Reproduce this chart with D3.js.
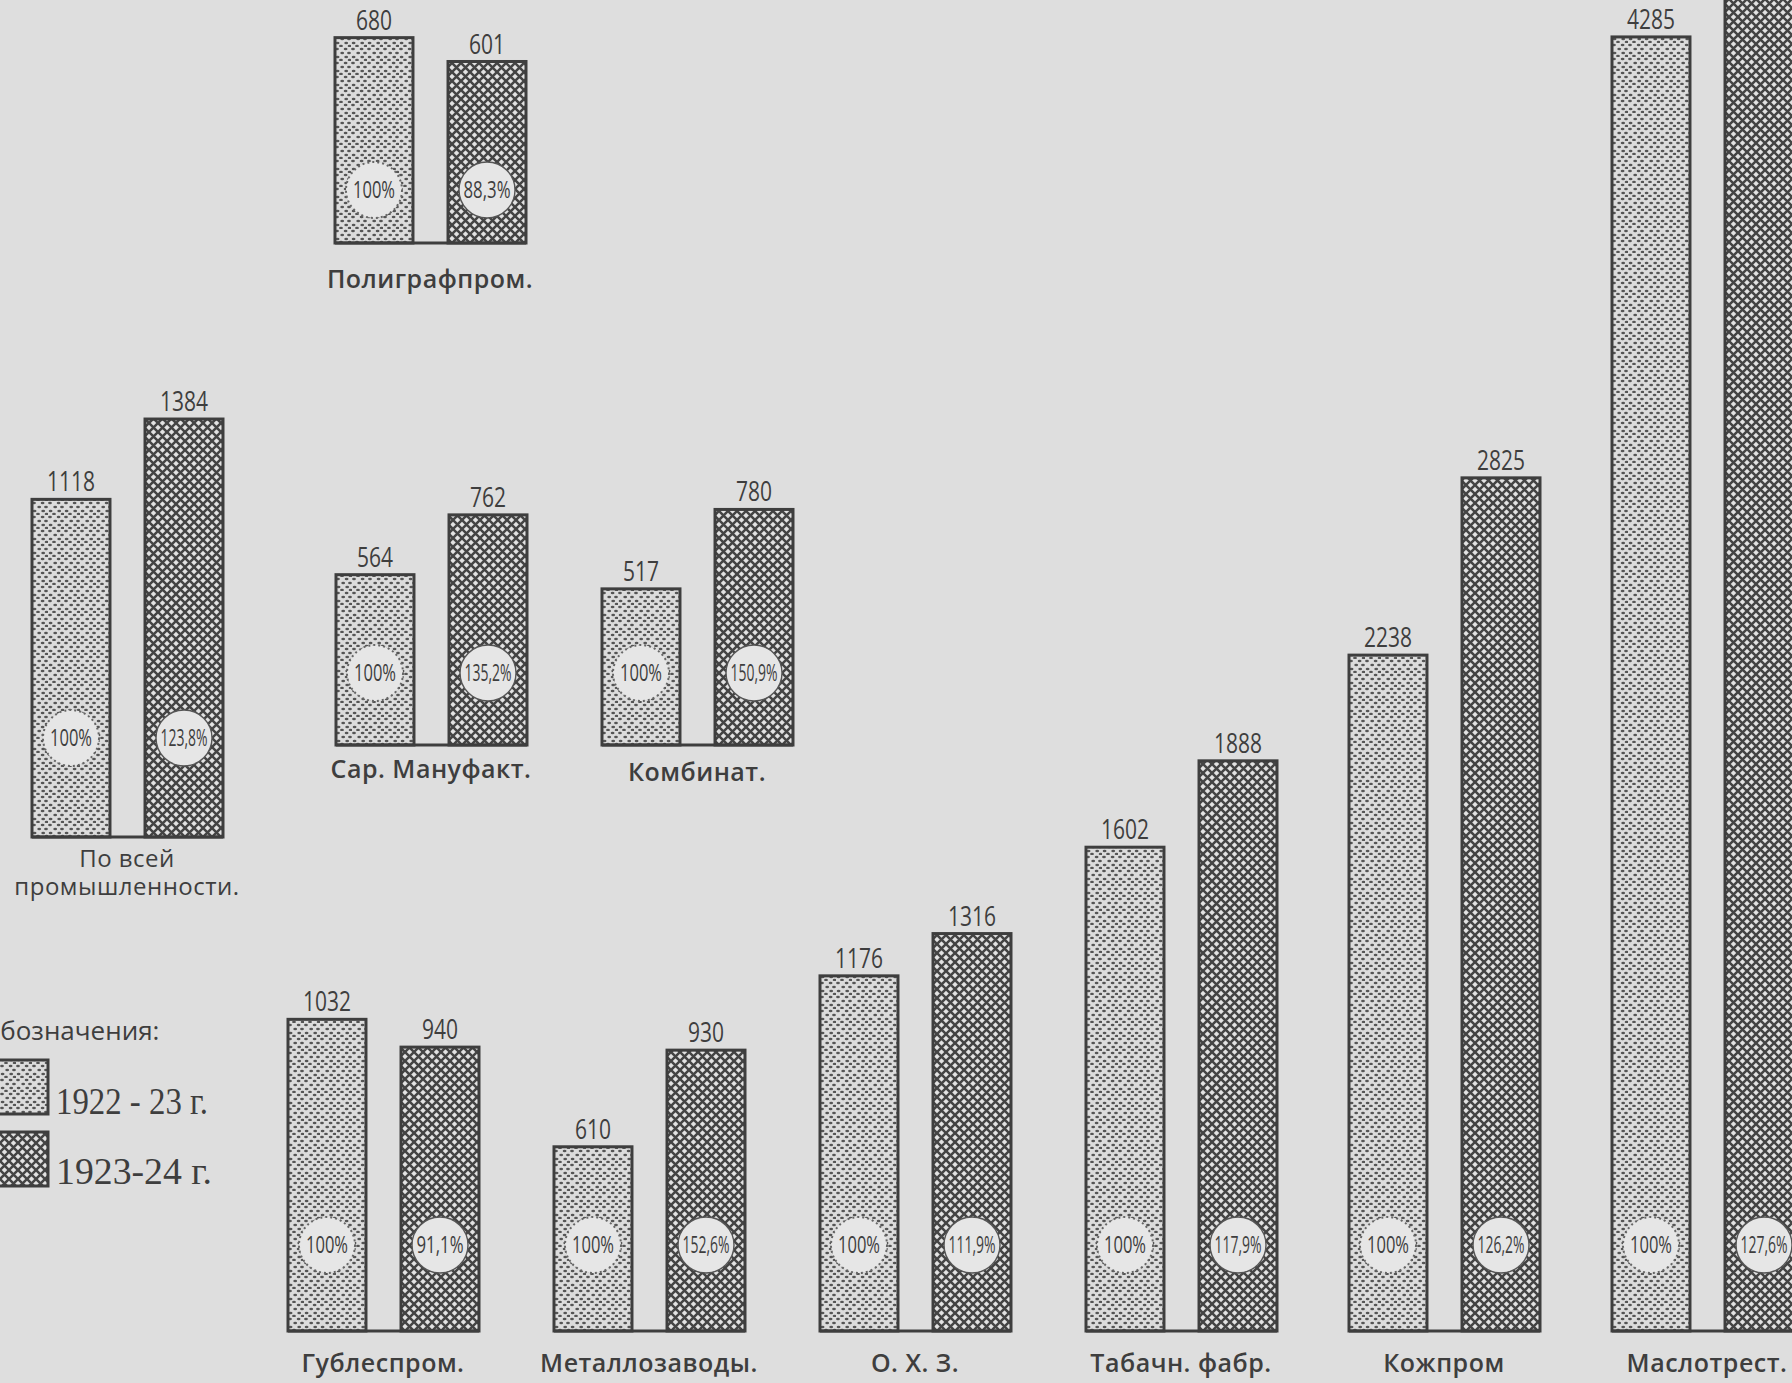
<!DOCTYPE html>
<html>
<head>
<meta charset="utf-8">
<script src="https://cdn.jsdelivr.net/npm/d3@7"></script>
<style>
  body { margin: 0; background: #dedede; overflow: hidden; }
  svg { display: block; }
</style>
</head>
<body>
<script>
// data
var categories = ["По всей промышленности.", "Полиграфпром.", "Сар. Мануфакт.", "Комбинат.",
                  "Гублеспром.", "Металлозаводы.", "О. Х. З.", "Табачн. фабр.", "Кожпром", "Маслотрест."];
var values2223 = [1118, 680, 564, 517, 1032, 610, 1176, 1602, 2238, 4285];
var values2324 = [1384, 601, 762, 780, 940, 930, 1316, 1888, 2825, 5468];
var basePct = "100%";
var pct2324 = ["123,8%", "88,3%", "135,2%", "150,9%", "91,1%", "152,6%", "111,9%", "117,9%", "126,2%", "127,6%"];
var seriesNames = ["1922 - 23 г.", "1923-24 г."];

// where each little panel sits on the sheet (layout only)
var panels = [
  {x: 32,   base: 837,  pct: 99, lab: 30, wrap: true},
  {x: 335,  base: 243,  pct: 53, lab: 45},
  {x: 336,  base: 745,  pct: 72, lab: 33},
  {x: 602,  base: 745,  pct: 72, lab: 36},
  {x: 288,  base: 1331, pct: 86, lab: 41},
  {x: 554,  base: 1331, pct: 86, lab: 41},
  {x: 820,  base: 1331, pct: 86, lab: 41},
  {x: 1086, base: 1331, pct: 86, lab: 41},
  {x: 1349, base: 1331, pct: 86, lab: 41},
  {x: 1612, base: 1331, pct: 86, lab: 41}
];

var width = 1792;
var height = 1383;
var ink = "#3e3e3e";
var numFont = "'Open Sans', 'DejaVu Sans', sans-serif";

var svg = d3.select("body").append("svg")
  .attr("width", width)
  .attr("height", height);

svg.append("rect")
  .attr("width", width)
  .attr("height", height)
  .attr("fill", "#dedede");

// fills: stipple for 1922-23, cross hatch for 1923-24
var defs = svg.append("defs");

var dots = defs.append("pattern")
  .attr("id", "dots")
  .attr("patternUnits", "userSpaceOnUse")
  .attr("width", 16).attr("height", 14);
dots.append("rect").attr("width", 16).attr("height", 14).attr("fill", "#dcdcdc");
[[2, 2], [10, 2], [6, 6], [14, 6], [2, 10], [10, 10], [6, 13], [14, 13]].forEach(function(p, i){
  dots.append("ellipse")
    .attr("cx", p[0] + (i % 3) * 0.6)
    .attr("cy", p[1])
    .attr("rx", 1.9).attr("ry", 1.2)
    .attr("fill", "#555");
});

var hatch = defs.append("pattern")
  .attr("id", "hatch")
  .attr("patternUnits", "userSpaceOnUse")
  .attr("width", 9).attr("height", 9);
hatch.append("rect").attr("width", 9).attr("height", 9).attr("fill", "#e2e2e2");
hatch.append("path")
  .attr("d", "M0,0L9,9M9,0L0,9")
  .attr("stroke", "#444")
  .attr("stroke-width", 2.5)
  .attr("stroke-linecap", "square");

var fills = ["url(#dots)", "url(#hatch)"];

// one value scale for every panel
var h = d3.scaleLinear().domain([0, 1000]).range([0, 302]);
// position of the two bars inside a panel
var xb = d3.scaleBand().domain([0, 1]).range([0, 191]).paddingInner(0.31);

var groups = svg.selectAll("g.panel")
  .data(categories)
  .enter().append("g")
  .attr("class", "panel")
  .attr("transform", function(d, i){ return "translate(" + panels[i].x + "," + panels[i].base + ")"; });

groups.each(function(name, i){
  var g = d3.select(this);
  var p = panels[i];
  var vals = [values2223[i], values2324[i]];
  var pcts = [basePct, pct2324[i]];

  g.selectAll("rect.bar")
    .data(vals)
    .enter().append("rect")
    .attr("class", "bar")
    .attr("x", function(d, j){ return xb(j); })
    .attr("y", function(d){ return -h(d); })
    .attr("width", xb.bandwidth())
    .attr("height", function(d){ return h(d); })
    .attr("fill", function(d, j){ return fills[j]; })
    .attr("stroke", ink)
    .attr("stroke-width", 3);

  g.append("line")
    .attr("x1", xb(0)).attr("x2", xb(1) + xb.bandwidth())
    .attr("y1", 0).attr("y2", 0)
    .attr("stroke", ink)
    .attr("stroke-width", 3);

  // value on top of each bar, squeezed like the hand lettering
  g.selectAll("text.val")
    .data(vals)
    .enter().append("text")
    .attr("class", "val")
    .attr("x", function(d, j){ return xb(j) + xb.bandwidth() / 2; })
    .attr("y", function(d){ return -h(d) - 8; })
    .attr("text-anchor", "middle")
    .attr("textLength", function(d){ return String(d).length * 12; })
    .attr("lengthAdjust", "spacingAndGlyphs")
    .style("font-family", numFont)
    .style("font-size", "28px")
    .attr("fill", ink)
    .text(function(d){ return d; });

  // percent badge
  var badge = g.selectAll("g.pct")
    .data(pcts)
    .enter().append("g")
    .attr("class", "pct")
    .attr("transform", function(d, j){ return "translate(" + (xb(j) + xb.bandwidth() / 2) + "," + (-p.pct) + ")"; });

  badge.append("circle")
    .attr("r", 28)
    .attr("fill", "#e6e6e6")
    .attr("stroke", function(d, j){ return j ? "#555" : "#666"; })
    .attr("stroke-width", function(d, j){ return j ? 1.4 : 2; })
    .attr("stroke-dasharray", function(d, j){ return j ? null : "2,3"; });

  badge.append("text")
    .attr("text-anchor", "middle")
    .attr("dy", "0.36em")
    .attr("textLength", function(d){ return d.length > 4 ? 47 : 42; })
    .attr("lengthAdjust", "spacingAndGlyphs")
    .style("font-family", numFont)
    .style("font-size", "23px")
    .attr("fill", ink)
    .text(function(d){ return d; });

  // panel name under the bars
  var lab = g.append("text")
    .attr("x", 95)
    .attr("y", p.lab)
    .attr("text-anchor", "middle")
    .style("font-family", "'Open Sans', 'Noto Sans', sans-serif")
    .style("font-weight", p.wrap ? 500 : 600)
    .style("font-size", p.wrap ? "24px" : "25px")
    .style("letter-spacing", "0.5px")
    .attr("fill", ink);

  if (p.wrap) {
    var words = name.split(" ");
    lab.append("tspan").attr("x", 95).attr("dy", 0).text(words.slice(0, 2).join(" "));
    lab.append("tspan").attr("x", 95).attr("dy", 28).text(words.slice(2).join(" "));
  } else {
    lab.text(name);
  }
});

// legend, cut at the left edge like the scan
var legend = svg.append("g");

legend.append("text")
  .attr("x", -20)
  .attr("y", 1040)
  .style("font-family", "'Open Sans', 'Noto Sans', sans-serif")
  .style("font-size", "26px")
  .attr("fill", ink)
  .text("Обозначения:");

legend.selectAll("rect.key")
  .data(seriesNames)
  .enter().append("rect")
  .attr("class", "key")
  .attr("x", -30)
  .attr("y", function(d, i){ return 1060 + i * 72; })
  .attr("width", 78)
  .attr("height", 54)
  .attr("fill", function(d, i){ return fills[i]; })
  .attr("stroke", ink)
  .attr("stroke-width", 3);

legend.selectAll("text.key")
  .data(seriesNames)
  .enter().append("text")
  .attr("class", "key")
  .attr("x", 56)
  .attr("y", function(d, i){ return 1114 + i * 70; })
  .attr("textLength", function(d, i){ return i ? 156 : 152; })
  .attr("lengthAdjust", "spacingAndGlyphs")
  .style("font-family", "'Liberation Serif', 'DejaVu Serif', serif")
  .style("font-size", "38px")
  .attr("fill", ink)
  .text(function(d){ return d; });
</script>
</body>
</html>
